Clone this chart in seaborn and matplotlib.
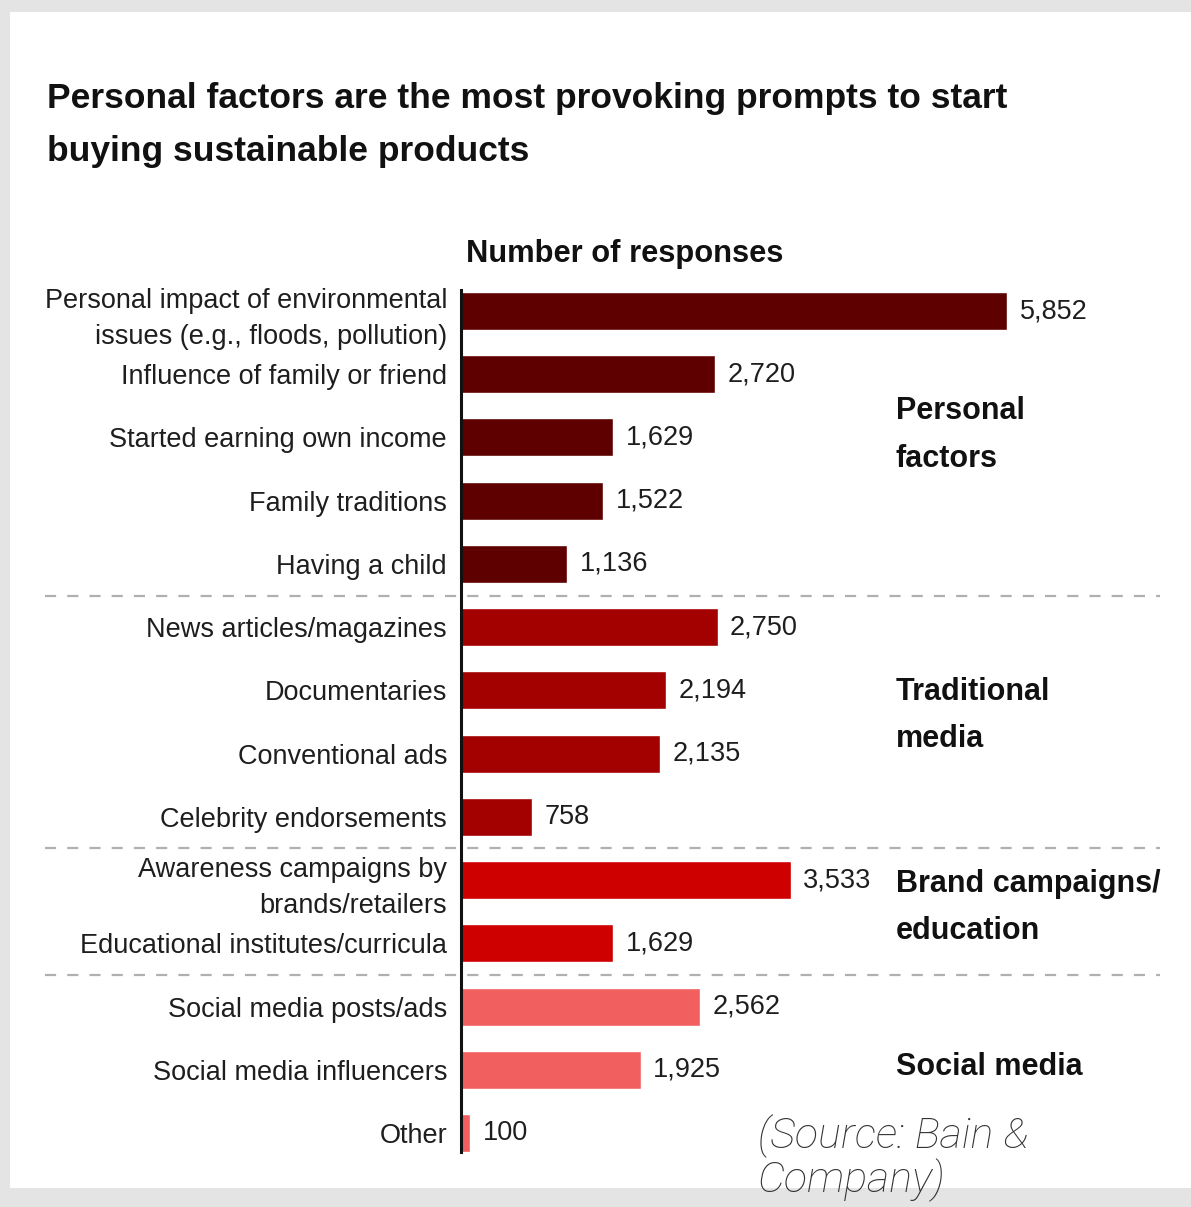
import matplotlib
matplotlib.use("Agg")
import matplotlib.pyplot as plt
import matplotlib.transforms as mtransforms
from matplotlib.patches import Rectangle
from matplotlib import font_manager
import seaborn as sns
import pandas as pd

# ---- data -------------------------------------------------------------
categories = [
    "Personal impact of environmental\nissues (e.g., floods, pollution)",
    "Influence of family or friend",
    "Started earning own income",
    "Family traditions",
    "Having a child",
    "News articles/magazines",
    "Documentaries",
    "Conventional ads",
    "Celebrity endorsements",
    "Awareness campaigns by\nbrands/retailers",
    "Educational institutes/curricula",
    "Social media posts/ads",
    "Social media influencers",
    "Other",
]
responses = [5852, 2720, 1629, 1522, 1136, 2750, 2194, 2135, 758, 3533, 1629, 2562, 1925, 100]
groups = (["Personal factors"] * 5 + ["Traditional media"] * 4
          + ["Brand campaigns/education"] * 2 + ["Social media"] * 3)
group_titles = ["Personal\nfactors", "Traditional\nmedia", "Brand campaigns/\neducation", "Social media"]
group_names = ["Personal factors", "Traditional media", "Brand campaigns/education", "Social media"]
group_colors = ["#5f0000", "#a30000", "#cf0000", "#f25f5f"]
group_label_rows = [1.96, 6.4, 9.43, 11.95]
separator_rows = [4.5, 8.5, 10.5]

df = pd.DataFrame({"category": categories, "responses": responses, "group": groups})

# ---- fonts ------------------------------------------------------------
installed = {f.name for f in font_manager.fontManager.ttflist}
narrow = "Liberation Sans Narrow" if "Liberation Sans Narrow" in installed else "Liberation Sans"

sns.set_theme(style="white")
plt.rcParams["font.family"] = [narrow, "DejaVu Sans"]

W, H = 1191, 1207
fig = plt.figure(figsize=(W / 100, H / 100), dpi=100)
fig.patch.set_facecolor("#e4e4e4")
fig.patches.append(Rectangle((10 / W, 1 - 1188 / H), (W - 10) / W, (1188 - 12) / H,
                             transform=fig.transFigure, facecolor="white",
                             edgecolor="none", zorder=-5))

# axes placed in pixel terms: left spine at x=461, top 290, bottom 1152
ax_left, ax_right, ax_top, ax_bot = 461, 1160, 290, 1152
ax = fig.add_axes([ax_left / W, 1 - ax_bot / H, (ax_right - ax_left) / W, (ax_bot - ax_top) / H])
ax.set_facecolor("none")

sns.barplot(data=df, x="responses", y="category", hue="group", hue_order=group_names,
            palette=dict(zip(group_names, group_colors)), dodge=False, width=0.6,
            orient="h", legend=False, saturation=1, ax=ax)

px_per_unit = (1007 - 461) / 5852
ax.set_xlim(0, (ax_right - ax_left) / px_per_unit)
row_px = (1133 - 311) / 13
ax.set_ylim((ax_bot - 311) / row_px, -(311 - ax_top) / row_px)

for cont in ax.containers:
    ax.bar_label(cont, fmt="{:,.0f}", padding=9, fontsize=19.5, color="#1e1e1e")

ax.set_xlabel("")
ax.set_ylabel("")
ax.set_xticks([])
ax.tick_params(axis="y", length=0, pad=10, labelsize=19.5, labelcolor="#1e1e1e")
plt.setp(ax.get_yticklabels(), linespacing=1.5)
for s in ["top", "right", "bottom"]:
    ax.spines[s].set_visible(False)
ax.spines["left"].set_color("#111111")
ax.spines["left"].set_linewidth(2.2)

# dashed separators between groups
trans = mtransforms.blended_transform_factory(ax.transAxes, ax.transData)
x0 = (45 - ax_left) / (ax_right - ax_left)
for r in separator_rows:
    ax.plot([x0, 1.0], [r, r], transform=trans, color="#b0b0b0", lw=1.6,
            linestyle=(0, (5, 5)), clip_on=False, zorder=0)

# group titles
gx = (896 - ax_left) / (ax_right - ax_left)
for title, r in zip(group_titles, group_label_rows):
    ax.text(gx, r, title, transform=trans, ha="left", va="center", fontsize=22,
            fontweight="bold", color="#111111", linespacing=1.75, clip_on=False)

ax.text((466 - ax_left) / (ax_right - ax_left), (254 - 311) / row_px, "Number of responses",
        transform=trans, ha="left", va="center", fontsize=22.2, fontweight="bold",
        color="#111111", clip_on=False)

fig.text(47 / W, 1 - 82 / H,
         "Personal factors are the most provoking prompts to start\nbuying sustainable products",
         ha="left", va="top", fontsize=25.5, fontweight="bold", color="#111111", linespacing=1.75)

fig.text(758 / W, 1 - 1114 / H, "(Source: Bain &\nCompany)", ha="left", va="top",
         fontsize=31, style="italic", fontweight="light", family=["Roboto", "DejaVu Sans"],
         color="#333333", linespacing=1.02)

fig.savefig("out.png", dpi=100, facecolor=fig.get_facecolor())
